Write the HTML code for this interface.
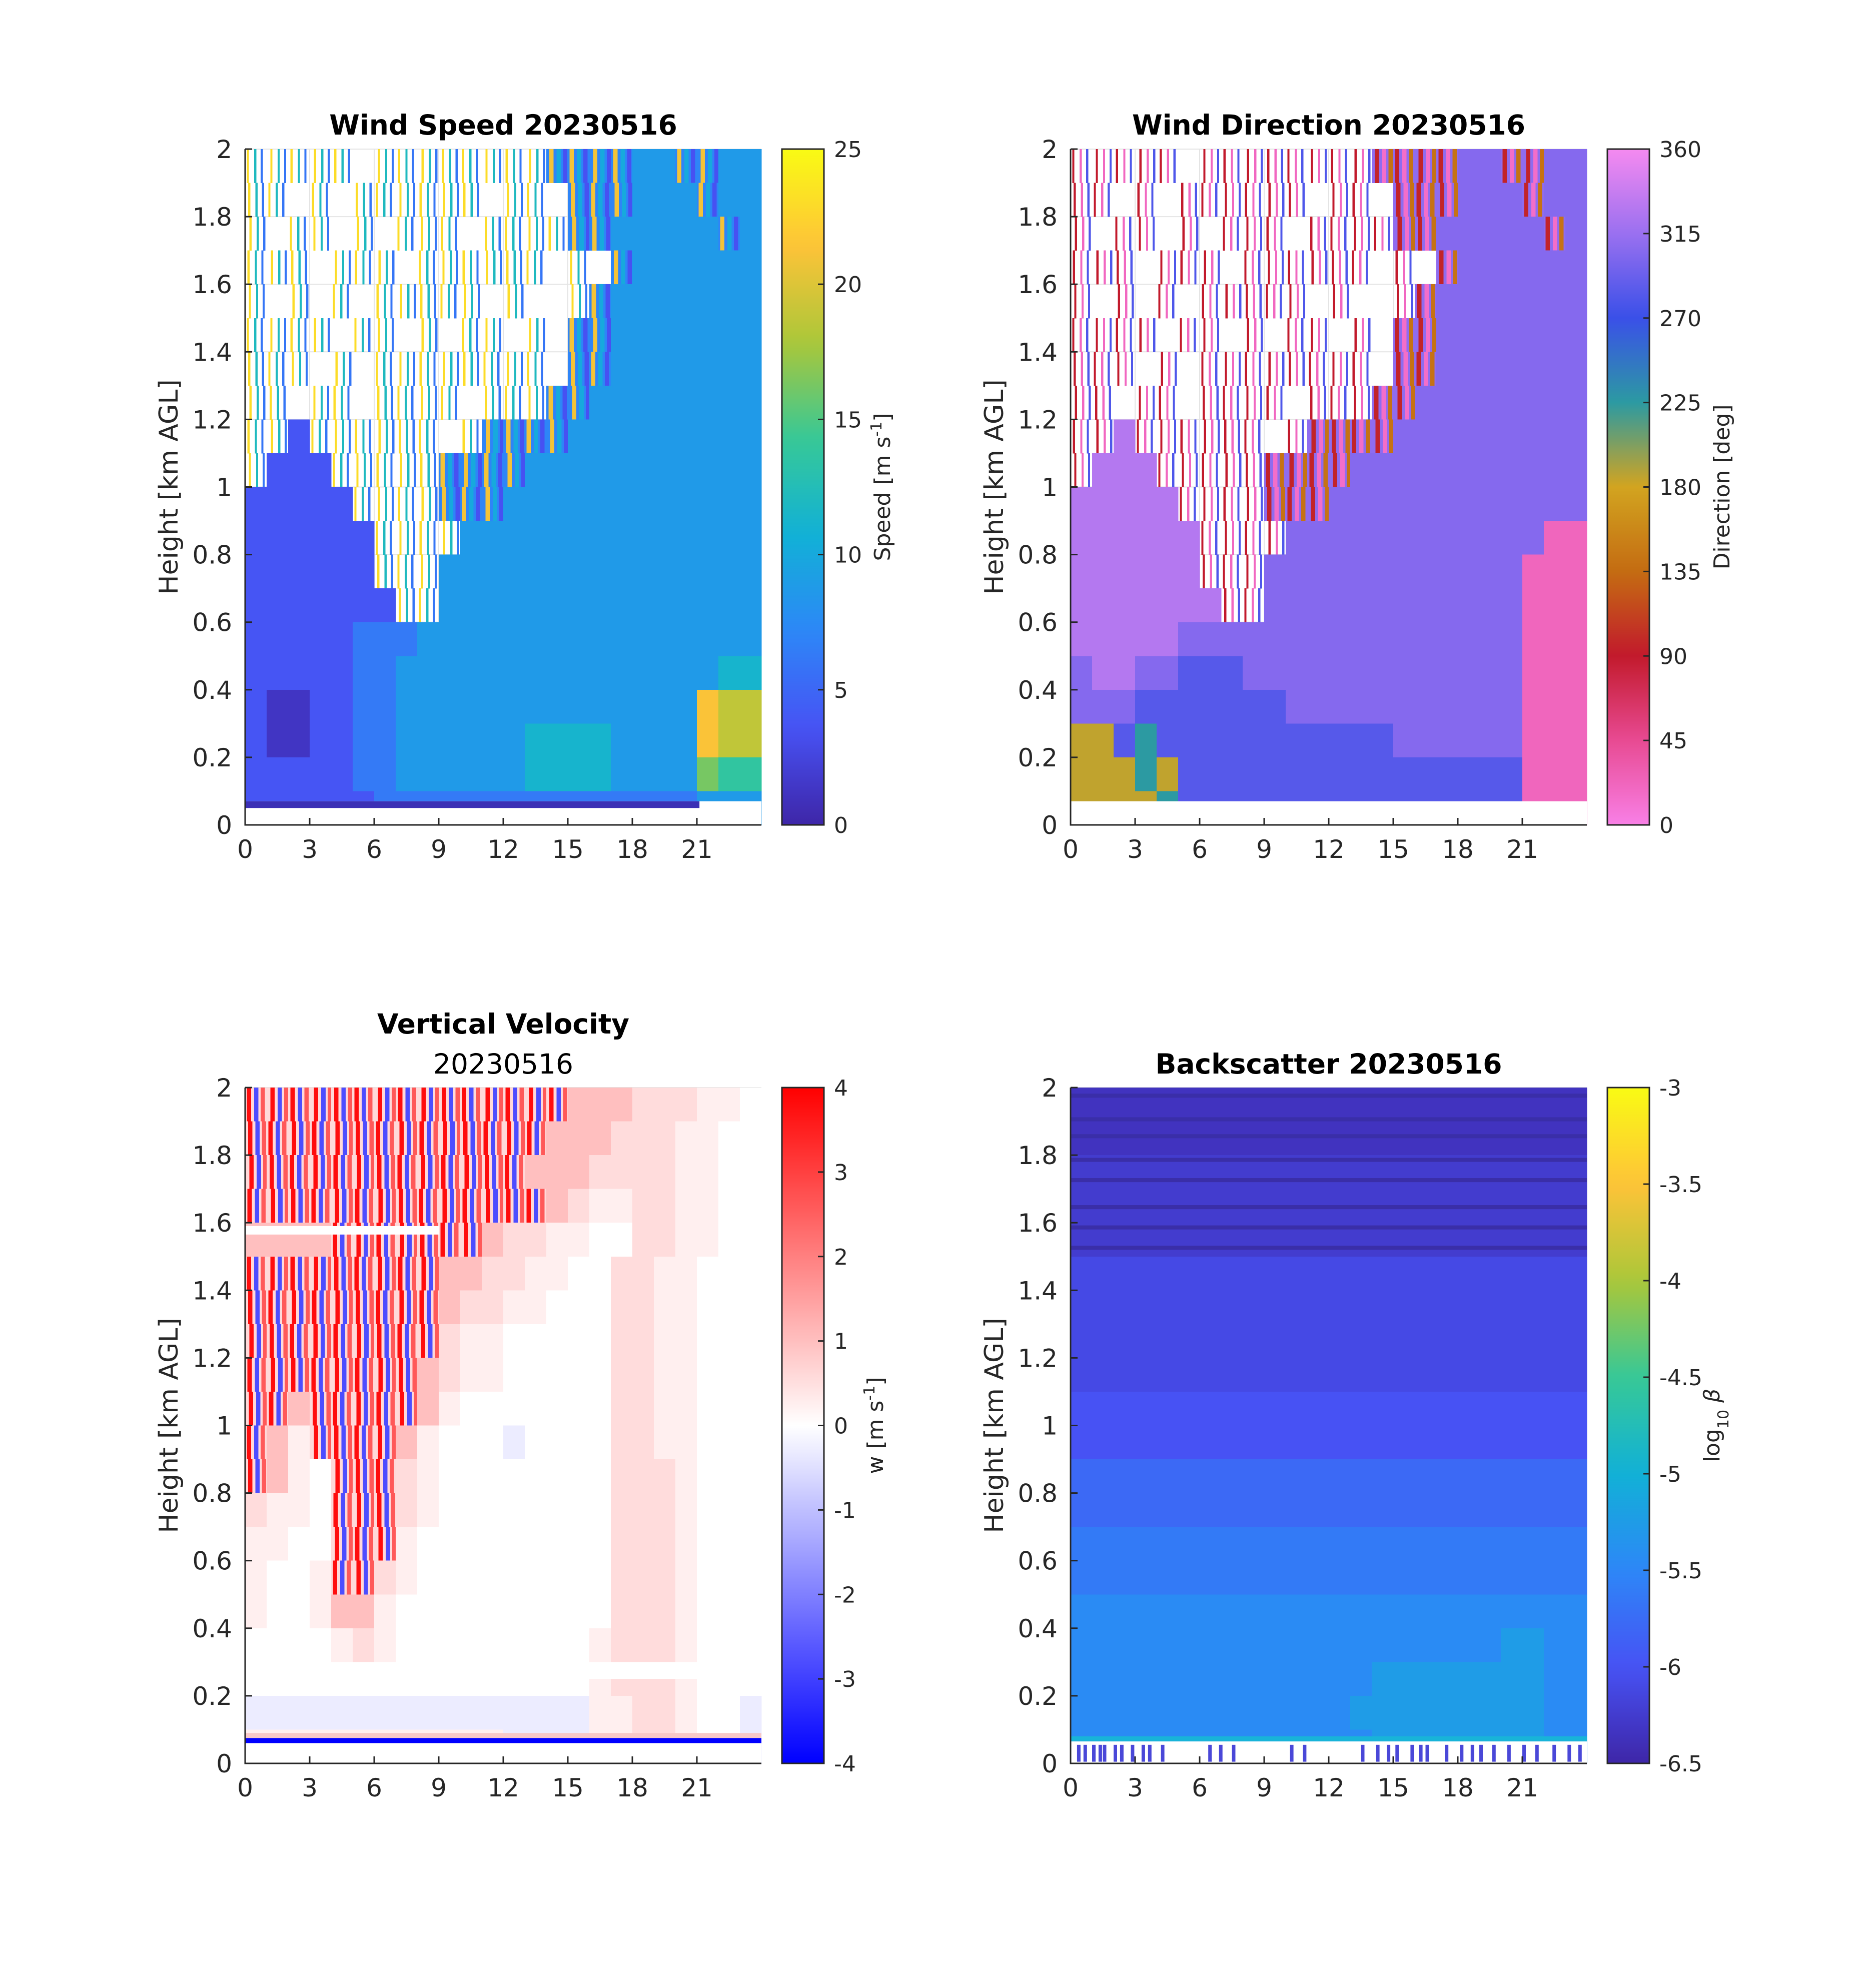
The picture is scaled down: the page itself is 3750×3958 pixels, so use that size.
<!DOCTYPE html>
<html><head><meta charset="utf-8"><style>
html,body{margin:0;padding:0;background:#fff;}
svg{display:block;font-family:"DejaVu Sans","Liberation Sans",sans-serif;}
</style></head><body>
<svg id="fig" width="3750" height="3958" viewBox="0 0 3750 3958" xmlns="http://www.w3.org/2000/svg"></svg>
<script>
// ---------- data (rows top 2.0 km -> bottom 0 km, 24 hourly columns) ----------
const hours = [0,3,6,9,12,15,18,21];
const heightTicks = [0,0.2,0.4,0.6,0.8,1,1.2,1.4,1.6,1.8,2];
const speedTicks = [0,5,10,15,20,25];
const dirTicks = [0,45,90,135,180,225,270,315,360];
const wTicks = [-4,-3,-2,-1,0,1,2,3,4];
const betaTicks = [-6.5,-6,-5.5,-5,-4.5,-4,-3.5,-3];

// speed: '.' missing, 's' sparse noisy retrievals, 'd' dense noisy, digit d -> d*2.5+1.25 m/s
const speedRows = [
"sssss.ssssssssdddd33dd33",
"ss.s.ssssss.ss.ddd333d33",
"s.ss.s.sss.ssssdd33333d3",
"sss.sss.ssssss.s.d333333",
"s.s.s.sssss.s..sd3333333",
"ssss.ss.s.ss.s.dd3333333",
"sss.s.ssssssss.dd3333333",
"ss.ss.ssss.sssdd33333333",
"ss1ssssss.sdddd333333333",
"s111sssssdddd33333333333",
"11111ssssddd333333333333",
"111111ssss33333333333333",
"111111sss333333333333333",
"1111111ss333333333333333",
"111112223333333333333333",
"111112233333333333333344",
"100112233333333333333877",
"100112233333344443333877",
"111112233333344443333655",
"111111222222222222222333"];
const speedSparse = [23,12,6];
const speedDense = [21,10,3.5];
const speedDenseBg = 7;

// direction chars -> degrees
const dirCodes = {P:22,G:185,T:225,B:283,V:305,L:328};
const dirRows = [
"sssss.ssssssssddddVVddVV",
"ss.s.ssssss.ss.dddVVVdVV",
"s.ss.s.sss.ssssddVVVVVdV",
"sss.sss.ssssss.s.dVVVVVV",
"s.s.s.sssss.s..sdVVVVVVV",
"ssss.ss.s.ss.s.ddVVVVVVV",
"sss.s.ssssssss.ddVVVVVVV",
"ss.ss.ssss.sssddVVVVVVVV",
"ssLssssss.sddddVVVVVVVVV",
"sLLLsssssddddVVVVVVVVVVV",
"LLLLLssssdddVVVVVVVVVVVV",
"LLLLLLssssVVVVVVVVVVVVPP",
"LLLLLLsssVVVVVVVVVVVVPPP",
"LLLLLLLssVVVVVVVVVVVVPPP",
"LLLLLVVVVVVVVVVVVVVVVPPP",
"VLLVVBBBVVVVVVVVVVVVVPPP",
"VVVBBBBBBBVVVVVVVVVVVPPP",
"GGBTBBBBBBBBBBBVVVVVVPPP",
"GGGTGBBBBBBBBBBBBBBBBPPP",
"GGGGTBBBBBBBBBBBBBBBBPPP"];
const dirSparse = [90,20,280];
const dirDense = [95,15,140];
const dirDenseBg = 310;

// vertical velocity chars -> m/s ; 'n' = strongly turbulent noisy cell
const wCodes = {"0":0,"1":0.25,"2":0.55,"3":1.0,"b":-0.3,"n":0.9};
const wRows = [
"nnnnnnnnnnnnnnn333222110",
"nnnnnnnnnnnnnn3332221100",
"nnnnnnnnnnnnn33322221100",
"nnnnnnnnnnnnnn3211221100",
"3333nnnnnnn3221100221100",
"nnnnnnnnn332211002211000",
"nnnnnnnnn322110002211000",
"nnnnnnnnn211000002211000",
"nnnnnnnn3211000002211000",
"nn3nnnnn3100000002211000",
"n31nnnn31000b00002211000",
"n310nnn21000000002221000",
"2110nnn21000000002221000",
"1100nnn10000000002221000",
"1001nn210000000002221000",
"100133100000000002221000",
"000012100000000012221000",
"000000000000000012221000",
"bbbbbbbbbbbbbbbb1122100b",
"111111111111bbbb1122100b"];
const wNoise = [3.8,-2.8,2.6];
const wNoiseBg = 0.6;

// backscatter chars -> log10 beta
const betaCodes = {a:-6.35,b:-6.25,c:-6.1,d:-5.95,e:-5.78,f:-5.62,g:-5.45,h:-5.25};
const betaRows = [
"aaaaaaaaaaaaaaaaaaaaaaaa",
"aaaaaaaaaaaaaaaaaaaaaaaa",
"bbbbbbbbbbbbbbbbbbbbbbbb",
"bbbbbbbbbbbbbbbbbbbbbbbb",
"bbbbbbbbbbbbbbbbbbbbbbbb",
"cccccccccccccccccccccccc",
"cccccccccccccccccccccccc",
"cccccccccccccccccccccccc",
"cccccccccccccccccccccccc",
"dddddddddddddddddddddddd",
"dddddddddddddddddddddddd",
"eeeeeeeeeeeeeeeeeeeeeeee",
"eeeeeeeeeeeeeeeeeeeeeeee",
"ffffffffffffffffffffffff",
"ffffffffffffffffffffffff",
"gggggggggggggggggggggggg",
"gggggggggggggggggggghhgg",
"gggggggggggggghhhhhhhhgg",
"ggggggggggggghhhhhhhhhgg",
"gggggggggggggghhhhhhhhgg"];
const betaDarkStripes = [1.97,1.9,1.85,1.78,1.72,1.64,1.58,1.52];
const betaGapBars = [0.3,0.6,1,1.3,1.5,2,2.3,2.8,3.3,3.6,4.2,6.4,6.9,7.5,10.2,10.8,13.5,14.2,14.7,15.1,15.8,16.2,16.5,17.4,18.1,18.6,19.0,19.6,20.3,21.0,21.6,22.4,23.1,23.6];

// ---------- colormaps ----------
function hex(c){return [parseInt(c.slice(1,3),16),parseInt(c.slice(3,5),16),parseInt(c.slice(5,7),16)];}
function interp(stops,t){t=Math.max(0,Math.min(1,t));const n=stops.length-1;const i=Math.min(n-1,Math.floor(t*n));const f=t*n-i;const a=hex(stops[i]),b=hex(stops[i+1]);return "rgb("+a.map((v,k)=>Math.round(v+(b[k]-v)*f)).join(",")+")";}
const parula=["#3e26a8","#4752f4","#2d87f7","#11b1d6","#37c897","#abc739","#fec338","#f9fb14"];
const dirMap=["#f880e6","#e84a92","#c21a2c","#c46c12","#d2a420","#2c9aa2","#3a50e8","#9a70f0","#f58af0"];
const bwr=["#0000ff","#ffffff","#ff0000"];

const svg=document.getElementById('fig');
const NS="http://www.w3.org/2000/svg";
function el(tag,attrs,parent){const e=document.createElementNS(NS,tag);for(const k in attrs)e.setAttribute(k,attrs[k]);(parent||svg).appendChild(e);return e;}
function txt(s,attrs,parent){const e=el('text',attrs,parent);e.textContent=s;return e;}
const stripPos=[0.08,0.42,0.72];

function panel(cfg){
  const g=el('g',{});
  
  
  const L=cfg.x,T=cfg.y,W=1032,H=1351;
  const xs=h=>L+h/24*W, ys=v=>T+H-v/2*H;
  hours.forEach(h=>el('line',{x1:xs(h),x2:xs(h),y1:T,y2:T+H,stroke:'#e4e4e4','stroke-width':2},g));
  heightTicks.forEach(v=>el('line',{x1:L,x2:L+W,y1:ys(v),y2:ys(v),stroke:'#e4e4e4','stroke-width':2},g));
  const cells=el('g',{'shape-rendering':'crispEdges'},g);
  
  
  cfg.rows.forEach((row,r)=>{
    for(let c=0;c<24;c++){
      const ch=row[c]||row[row.length-1];
      const x0=xs(c),x1=xs(c+1),y0=ys(2-r*0.1),y1=ys(2-(r+1)*0.1);
      const cw=x1-x0,chh=y1-y0+0.5;
      if(ch==='s'||ch==='d'||ch==='n'){
        const noisy=ch==='s'?cfg.sparse:cfg.dense;
        const bg=ch==='s'?null:cfg.denseBg;
        const sw=ch==='s'?0.1:0.2;
        if(bg!==null){const b=el('rect',{x:x0,y:y0,width:cw+0.5,height:chh,fill:cfg.color(bg)},cells);
          
          }
        noisy.forEach((v,k)=>{
          const off=(stripPos[k]+((r*7+c*3)%5)*0.03)%0.85;
          const s=el('rect',{x:x0+off*cw,y:y0,width:sw*cw,height:chh,fill:cfg.color(v)},cells);
          
          
        });
        continue;
      }
      const v=cfg.val(ch);
      if(v===null||v===undefined)continue;
      const rc=el('rect',{x:x0,y:y0,width:cw+0.5,height:chh,fill:cfg.color(v)},cells);
      
      
    }
  });
  if(cfg.extra)cfg.extra(g,xs,ys,W,H);
  const ax=el('path',{d:`M${L},${T} V${T+H} H${L+W}`,fill:'none',stroke:'#262626','stroke-width':3},g);
  
  
  hours.forEach(h=>{
    el('line',{x1:xs(h),x2:xs(h),y1:T+H,y2:T+H-14,stroke:'#262626','stroke-width':3},g);
    const t=txt(String(h),{x:xs(h),y:T+H+66,'font-size':50,'text-anchor':'middle',fill:'#262626'},g);
    
    
  });
  heightTicks.forEach(v=>{
    el('line',{x1:L,x2:L+14,y1:ys(v),y2:ys(v),stroke:'#262626','stroke-width':3},g);
    const t=txt(String(v),{x:L-26,y:ys(v)+18,'font-size':50,'text-anchor':'end',fill:'#262626'},g);
    
    
  });
  const yl=txt('Height [km AGL]',{x:0,y:0,'font-size':52,'text-anchor':'middle',fill:'#262626',transform:`translate(${L-135},${T+H/2}) rotate(-90)`},g);
  
  
  cfg.title.forEach((tl,i)=>{
    const t=txt(tl[0],{x:L+W/2,y:cfg.titleY[i],'font-size':55,'font-weight':tl[1]?'bold':'normal','text-anchor':'middle',fill:'#000'},g);
    
    
  });
  const cb=el('g',{},g);
  
  
  const CX=L+W+41,CW=84;
  const defsId='grad'+cfg.name;
  const defs=el('defs',{},cb);
  const lg=el('linearGradient',{id:defsId,x1:0,y1:1,x2:0,y2:0},defs);
  for(let i=0;i<=40;i++)el('stop',{offset:i/40,'stop-color':cfg.color(cfg.min+(cfg.max-cfg.min)*i/40)},lg);
  el('rect',{x:CX,y:T,width:CW,height:H,fill:`url(#${defsId})`,stroke:'#262626','stroke-width':3},cb);
  cfg.ticks.forEach(v=>{
    const yy=T+H-(v-cfg.min)/(cfg.max-cfg.min)*H;
    el('line',{x1:CX+CW-12,x2:CX+CW,y1:yy,y2:yy,stroke:'#262626','stroke-width':3},cb);
    const t=txt(String(v),{x:CX+CW+20,y:yy+16,'font-size':44,fill:'#262626'},cb);
    
    
  });
  const cl=el('text',{x:0,y:0,'font-size':44,'text-anchor':'middle',fill:'#262626',transform:`translate(${CX+CW+cfg.labelDx},${T+H/2}) rotate(-90)`},cb);
  
  
  cl.innerHTML=cfg.label;
}

panel({name:'wind-speed-panel',x:490,y:298,rows:speedRows,min:0,max:25,ticks:speedTicks,
  sparse:speedSparse,dense:speedDense,denseBg:speedDenseBg,
  val:ch=>ch==='.'?null:(+ch)*2.5+1.25,color:v=>interp(parula,v/25),
  title:[['Wind Speed 20230516',1]],titleY:[269],
  label:'Speed [m s<tspan baseline-shift="super" font-size="30">-1</tspan>]',labelDx:132,
  extra:(g,xs,ys,W)=>{el('rect',{x:xs(0),y:ys(0.07),width:W,height:ys(0)-ys(0.07),fill:'#fff'},g);
    el('rect',{x:xs(0),y:ys(0.07),width:W*0.88,height:ys(0.05)-ys(0.07),fill:'#3b2fb5'},g);}
});
panel({name:'wind-direction-panel',x:2140,y:298,rows:dirRows,min:0,max:360,ticks:dirTicks,
  sparse:dirSparse,dense:dirDense,denseBg:dirDenseBg,
  val:ch=>ch==='.'?null:dirCodes[ch],color:v=>interp(dirMap,v/360),
  title:[['Wind Direction 20230516',1]],titleY:[269],
  label:'Direction [deg]',labelDx:160,
  extra:(g,xs,ys,W)=>{el('rect',{x:xs(0),y:ys(0.07),width:W,height:ys(0)-ys(0.07),fill:'#fff'},g);}
});
panel({name:'vertical-velocity-panel',x:490,y:2174,rows:wRows,min:-4,max:4,ticks:wTicks,
  sparse:wNoise,dense:wNoise,denseBg:wNoiseBg,
  val:ch=>wCodes[ch],color:v=>interp(bwr,(v+4)/8),
  title:[['Vertical Velocity',1],['20230516',0]],titleY:[2066,2146],
  label:'w [m s<tspan baseline-shift="super" font-size="30">-1</tspan>]',labelDx:118,
  extra:(g,xs,ys,W)=>{
    el('rect',{x:xs(0),y:ys(1.59),width:xs(9)-xs(0),height:ys(1.565)-ys(1.59),fill:'#fff'},g);
    el('rect',{x:xs(0),y:ys(0.3),width:W,height:ys(0.25)-ys(0.3),fill:'#fff'},g);
    el('rect',{x:xs(0),y:ys(0.09),width:W,height:ys(0.075)-ys(0.09),fill:'#f8c8c8'},g);
    el('rect',{x:xs(0),y:ys(0.075),width:W,height:ys(0.06)-ys(0.075),fill:'#0000ff'},g);
    el('rect',{x:xs(0),y:ys(0.06),width:W,height:ys(0)-ys(0.06),fill:'#fff'},g);}
});
panel({name:'backscatter-panel',x:2140,y:2174,rows:betaRows,min:-6.5,max:-3,ticks:betaTicks,
  sparse:[],dense:[],denseBg:-6,
  val:ch=>betaCodes[ch],color:v=>interp(parula,(v+6.5)/3.5),
  title:[['Backscatter 20230516',1]],titleY:[2146],
  label:'log<tspan baseline-shift="sub" font-size="30">10</tspan> <tspan font-style="italic">β</tspan>',labelDx:140,
  extra:(g,xs,ys,W)=>{
    betaDarkStripes.forEach(h=>{const r=el('rect',{x:xs(0),y:ys(h+0.012),width:W,height:ys(h)-ys(h+0.012),fill:'#3a2ea8'},g);
      
      });
    el('rect',{x:xs(0),y:ys(0.08),width:W,height:ys(0.065)-ys(0.08),fill:'#18b4d8'},g);
    el('rect',{x:xs(0),y:ys(0.065),width:W,height:ys(0)-ys(0.065),fill:'#fff'},g);
    betaGapBars.forEach(h=>{const r=el('rect',{x:xs(h),y:ys(0.055),width:7,height:ys(0.005)-ys(0.055),fill:'#4a48d8'},g);
      
      });}
});
</script>
</body></html>
